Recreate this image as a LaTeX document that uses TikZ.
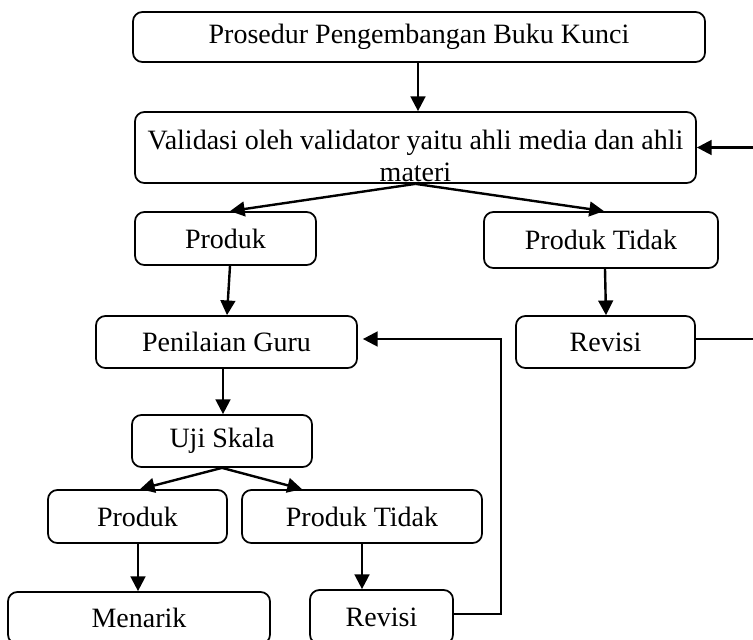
\documentclass[tikz,border=0pt]{standalone}
\usepackage{fontspec}
\setmainfont{Liberation Serif}
\usetikzlibrary{arrows.meta,positioning,calc}

\begin{document}
\begin{tikzpicture}[x=0.75pt, y=-0.75pt, >={Triangle[length=11pt,width=11pt]}, line width=1.8pt,
  box/.style={rectangle, rounded corners=7pt, draw, line width=1.3pt, font=\fontsize{21}{25}\selectfont, inner sep=0pt}]
\useasboundingbox (0,0) rectangle (753,639);
% boxes
\node[box, minimum width=429pt, minimum height=37.5pt] (proc) at (419,37) {Prosedur Pengembangan Buku Kunci};
\node[box, minimum width=420.75pt, minimum height=53.25pt] (valid) at (415.5,147.5) {};
\begin{scope}
  \clip (135,112) rectangle (696,181);
  \node[font=\fontsize{21}{25}\selectfont, align=center, anchor=north] (validtxt) at (415.5,124) {Validasi oleh validator yaitu ahli media dan ahli\\[-1pt]materi};
\end{scope}
\node[box, minimum width=135.75pt, minimum height=39.75pt] (prod) at (225.5,238.5) {Produk};
\node[box, minimum width=175.5pt, minimum height=42pt] (tidak) at (601,240) {Produk Tidak};
\node[box, minimum width=195.75pt, minimum height=39pt] (nilai) at (226.5,342) {Penilaian Guru};
\node[box, minimum width=134.25pt, minimum height=39pt] (revA) at (605.5,342) {Revisi};
\node[box, minimum width=135pt, minimum height=39pt] (uji) at (222,441) {Uji Skala};
\node[box, minimum width=134.25pt, minimum height=39.75pt] (prodB) at (137.5,516.5) {Produk};
\node[box, minimum width=180pt, minimum height=39.75pt] (tidakB) at (362,516.5) {Produk Tidak};
\node[box, minimum width=196.5pt, minimum height=39pt] (menarik) at (139,618) {Menarik};
\node[box, minimum width=107.25pt, minimum height=40.5pt] (revB) at (381.5,617) {Revisi};
\coordinate (rt) at (790,0);
\coordinate (mid) at (501,0);
% arrows
\draw[->] ($(proc.south -| valid.north)+(2.5,0)$) -- ($(valid.north)+(2.5,0)$);
\draw[->] (valid.south) -- ($(prod.north)+(4.5,0)$);
\draw[->] (valid.south) -- ($(tidak.north)+(3,0)$);
\draw[->] ($(prod.south)+(4.5,0)$) -- ($(nilai.north)+(0.5,0)$);
\draw[->] ($(tidak.south)+(4,0)$) -- ($(revA.north)+(0.5,0)$);
\draw[->] ($(revA.east)+(0,-3)$) -- ($(revA.east -| rt)+(0,-3)$) |- (valid.east);
\draw[->] ($(nilai.south)+(-3.5,0)$) -- ($(uji.north)+(1,0)$);
\draw[->] (uji.south) -- ($(prodB.north)+(2.5,0)$);
\draw[->] (uji.south) -- ($(tidakB.north)+(-60,0)$);
\draw[->] ($(prodB.south)+(0.5,0)$) -- ($(menarik.north)+(-1,0)$);
\draw[->] (tidakB.south) -- (tidakB.south |- revB.north);
\draw[->] ($(revB.east)+(0,-3)$) -- ($(revB.east -| mid)+(0,-3)$) |- ($(nilai.east)+(5,-3)$);
\end{tikzpicture}
\end{document}
